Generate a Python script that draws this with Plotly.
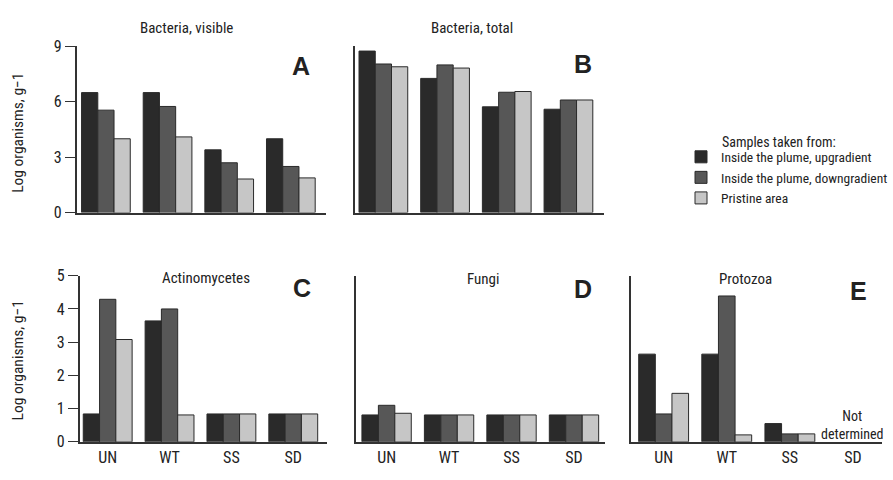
import plotly.graph_objects as go

# ---------------- data ----------------
sites = ["UN", "WT", "SS", "SD"]
series_names = ["Inside the plume, upgradient", "Inside the plume, downgradient", "Pristine area"]

# Panel A: Bacteria, visible
bact_visible_up = [6.5, 6.5, 3.4, 4.0]
bact_visible_down = [5.55, 5.75, 2.7, 2.5]
bact_visible_pristine = [4.0, 4.1, 1.82, 1.88]

# Panel B: Bacteria, total
bact_total_up = [8.75, 7.27, 5.73, 5.6]
bact_total_down = [8.05, 8.0, 6.52, 6.1]
bact_total_pristine = [7.9, 7.83, 6.56, 6.1]

# Panel C: Actinomycetes
actino_up = [0.84, 3.64, 0.84, 0.84]
actino_down = [4.29, 4.0, 0.84, 0.84]
actino_pristine = [3.08, 0.81, 0.84, 0.84]

# Panel D: Fungi
fungi_up = [0.81, 0.81, 0.81, 0.81]
fungi_down = [1.1, 0.81, 0.81, 0.81]
fungi_pristine = [0.86, 0.81, 0.81, 0.81]

# Panel E: Protozoa (SD not determined)
proto_up = [2.64, 2.64, 0.55, None]
proto_down = [0.84, 4.39, 0.24, None]
proto_pristine = [1.46, 0.21, 0.24, None]

top_ticks = [0, 3, 6, 9]
bottom_ticks = [0, 1, 2, 3, 4, 5]

# ---------------- style ----------------
W, H = 893, 480
FONT = "Roboto Condensed, DejaVu Sans Condensed, sans-serif"
BOLD = "Liberation Sans, Arial, sans-serif"
colors = ["#2a2a2a", "#575757", "#c6c6c6"]
AX = "#333333"
TXT = "#222222"

def px_x(p):
    return p / W

def px_y(p):
    return 1 - p / H

panels = [
    # axis suffix, x-domain px, y-domain px (top,bottom), yrange, xrange, data, show y ticks, show x labels
    ("", (77, 328), (39, 212), [0, 9], [-0.476, 3.573],
     [bact_visible_up, bact_visible_down, bact_visible_pristine], True, False),
    ("2", (357, 607), (39, 212), [0, 9], [-0.46, 3.57],
     [bact_total_up, bact_total_down, bact_total_pristine], False, False),
    ("3", (80, 329), (277.7, 450.7), [0, 5], [-0.455, 3.548],
     [actino_up, actino_down, actino_pristine], True, True),
    ("4", (358, 608), (277.7, 450.7), [0, 5], [-0.49, 3.49],
     [fungi_up, fungi_down, fungi_pristine], False, True),
    ("5", (635, 887), (277.7, 450.7), [0, 5], [-0.51, 3.46],
     [proto_up, proto_down, proto_pristine], False, True),
]

fig = go.Figure()
layout = {}
for pi, (suf, xd, yd, yr, xr, data, showy, showx) in enumerate(panels):
    for si, vals in enumerate(data):
        fig.add_trace(go.Bar(
            x=sites, y=vals, name=series_names[si],
            xaxis="x" + suf, yaxis="y" + suf,
            marker=dict(color=colors[si], line=dict(color="#2a2a2a", width=1)),
            showlegend=(pi == 0), legendgroup=series_names[si],
        ))
    layout["xaxis" + suf] = dict(
        domain=[px_x(xd[0]), px_x(xd[1])], anchor="y" + suf,
        range=xr, showline=True, linecolor=AX, linewidth=1.5,
        showgrid=False, zeroline=False, ticks="",
        showticklabels=showx, tickfont=dict(family=FONT, size=16, color=TXT),
        fixedrange=True,
    )
    layout["yaxis" + suf] = dict(
        domain=[px_y(yd[1]), px_y(yd[0])], anchor="x" + suf,
        range=yr, showline=True, linecolor=AX, linewidth=1.5,
        showgrid=False, zeroline=False,
        ticks="outside" if showy else "", ticklen=10, tickcolor=AX, tickwidth=1.2,
        tickvals=(top_ticks if yr[1] == 9 else bottom_ticks) if showy else [],
        showticklabels=showy, tickfont=dict(family=FONT, size=16, color=TXT),
        fixedrange=True,
    )

annotations = []
def ann(text, x, y, size, bold=False, angle=0, **kw):
    annotations.append(dict(
        text=("<b>%s</b>" % text) if bold else text,
        x=px_x(x), y=px_y(y), xref="paper", yref="paper",
        showarrow=False, textangle=angle,
        font=dict(family=BOLD if bold else FONT, size=size, color=TXT),
        xanchor="center", yanchor="middle", **kw))

# panel titles
ann("Bacteria, visible", 188, 20, 15)
ann("Bacteria, total", 475, 20, 15)
ann("Actinomycetes", 207, 280, 15)
ann("Fungi", 486, 281, 15)
ann("Protozoa", 750, 281, 15)
# panel letters
ann("A", 302.5, 59, 25, bold=True)
ann("B", 586.5, 57, 25, bold=True)
ann("C", 303.5, 290, 25, bold=True)
ann("D", 586, 292, 25, bold=True)
ann("E", 863, 294, 25, bold=True)
# y-axis titles
ann("Log organisms, g\u22121", 18, 129, 15.5, angle=-90)
ann("Log organisms, g\u22121", 18, 366, 15.5, angle=-90)
# legend title
annotations.append(dict(text="Samples taken from:", x=px_x(724), y=px_y(139),
                        xref="paper", yref="paper", showarrow=False,
                        xanchor="left", yanchor="middle",
                        font=dict(family=FONT, size=14, color=TXT)))
# not determined (panel E, SD)
annotations.append(dict(text="Not<br>determined", x="SD", y=px_y(433), xref="x5", yref="paper",
                        showarrow=False, xanchor="center", yanchor="middle", align="center",
                        font=dict(family=FONT, size=14, color=TXT)))

fig.update_layout(
    width=W, height=H,
    margin=dict(l=0, r=0, t=0, b=0),
    paper_bgcolor="white", plot_bgcolor="white",
    barmode="group", bargap=0.21, bargroupgap=0,
    annotations=annotations,
    legend=dict(x=px_x(685), y=px_y(138), xanchor="left", yanchor="top",
                font=dict(family=FONT, size=13.5, color=TXT),
                bgcolor="rgba(0,0,0,0)", tracegroupgap=0, itemclick=False),
    font=dict(family=FONT),
    **layout,
)

fig.write_html(
    "out.html",
    config={"displayModeBar": False},
    post_script="document.body.style.margin='0';document.body.style.overflow='hidden';",
)
